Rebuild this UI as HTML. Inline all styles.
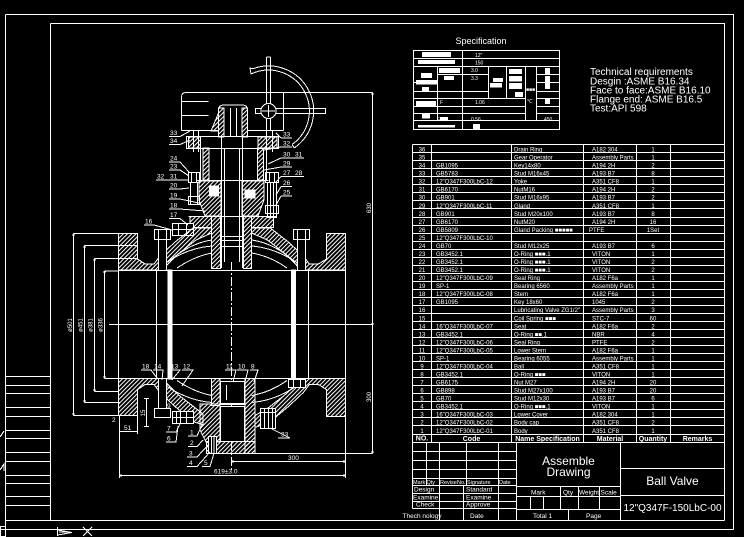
<!DOCTYPE html>
<html><head><meta charset="utf-8"><style>
html,body{margin:0;padding:0;background:#000;}
svg{display:block}
svg text{font-family:"Liberation Sans","DejaVu Sans",sans-serif;fill:#fff;stroke:none}
.m{text-anchor:middle}
</style></head><body>
<svg width="744" height="537" viewBox="0 0 744 537" xmlns="http://www.w3.org/2000/svg">
<defs>
<pattern id="h" patternUnits="userSpaceOnUse" width="3" height="3" patternTransform="rotate(45)"><rect width="1" height="3" fill="#fff"/></pattern>
</defs>
<rect width="744" height="537" fill="#000"/>
<g stroke="#fff" stroke-width="1" fill="none" shape-rendering="crispEdges">
<!-- frames -->
<path d="M5.5 14.5H733.5V529.5M5.5 14.5V529.5M0 529.5H733.5"/>
<path d="M50.5 23.5H724.5V520.5M50.5 23.5V520.5M5.5 520.5H724.5"/>
<path d="M5.5 376.5H50.5M5.5 385.5H50.5M5.5 393.5H50.5M5.5 407.5H50.5M5.5 416.5H50.5M5.5 430.5H50.5M5.5 438.5H50.5M5.5 452.5H50.5M5.5 461.5H50.5M5.5 475.5H50.5M5.5 483.5H50.5M5.5 496.5H50.5M5.5 505.5H50.5"/>
<path d="M0 437L4 431M0 470L4 464V471"/>
<rect x="0.5" y="526.5" width="5" height="10"/>
<path d="M57.5 527V536M57.5 530L72 532.5L57.5 535M59 532H70"/>
<path d="M83 527L92 536M92 527L83 536"/>

<!-- spec box -->
<rect x="413.5" y="50.5" width="146" height="79"/>
<path d="M413.5 58.5H559.5M413.5 66.5H559.5M462.5 50.5V129.5M437.5 66.5V120.5M488.5 66.5V98.5M506.5 66.5V98.5M525.5 66.5V120.5M536.5 66.5V120.5"/>
<path d="M437.5 74.5H488.5M536.5 74.5H559.5M536.5 82.5H559.5M413.5 82.5H437.5M413.5 91.5H488.5M536.5 91.5H559.5M413.5 98.5H525.5M536.5 98.5H559.5M413.5 106.5H525.5M536.5 106.5H559.5M413.5 113.5H525.5M536.5 113.5H559.5M413.5 120.5H559.5"/>

<!-- BOM table -->
<path d="M412.5 144.5H724.5M412.5 152.5H724.5M412.5 160.5H724.5M412.5 168.5H724.5M412.5 176.5H724.5M412.5 184.5H724.5M412.5 192.5H724.5M412.5 200.5H724.5M412.5 208.5H724.5M412.5 217.5H724.5M412.5 225.5H724.5M412.5 233.5H724.5M412.5 241.5H724.5M412.5 249.5H724.5M412.5 257.5H724.5M412.5 265.5H724.5M412.5 273.5H724.5M412.5 281.5H724.5M412.5 289.5H724.5M412.5 297.5H724.5M412.5 305.5H724.5M412.5 313.5H724.5M412.5 321.5H724.5M412.5 329.5H724.5M412.5 337.5H724.5M412.5 345.5H724.5M412.5 353.5H724.5M412.5 361.5H724.5M412.5 369.5H724.5M412.5 377.5H724.5M412.5 385.5H724.5M412.5 393.5H724.5M412.5 401.5H724.5M412.5 409.5H724.5M412.5 417.5H724.5M412.5 425.5H724.5M412.5 434.5H724.5M412.5 442.5H724.5"/>
<path d="M412.5 144.5V508.5M431.5 144.5V442.5M511.5 144.5V442.5M583.5 144.5V442.5M636.5 144.5V442.5M670.5 144.5V442.5"/>

<!-- title block -->
<path d="M412.5 451.5H516.5M412.5 460.5H516.5M412.5 469.5H516.5M412.5 478.5H516.5M412.5 485.5H516.5M412.5 493.5H516.5M412.5 501.5H516.5M412.5 508.5H516.5"/>
<path d="M426.5 442.5V485.5M439.5 442.5V520.5M466.5 442.5V485.5M498.5 442.5V520.5M463.5 485.5V520.5M516.5 442.5V520.5"/>
<path d="M516.5 486.5H620.5M516.5 496.5H620.5M516.5 509.5H620.5M560.5 486.5V509.5M578.5 486.5V509.5M599.5 486.5V509.5M530.5 496.5V509.5M543.5 496.5V509.5M568.5 509.5V520.5M620.5 442.5V520.5M620.5 468.5H724.5M620.5 495.5H724.5"/>

<!-- ============ VALVE DRAWING ============ -->
<path d="M181.5 130.5V97Q181.5 92.5 186 92.5H372.5M283.5 92.5V130.5M181.5 130.5H218M247 130.5H283.5M181.5 101.5H208.5M181.5 115.5H208.5"/>
<path d="M218.5 137V110Q218.5 105 224 105H242Q247.5 105 247.5 110V137M230.5 108V137M236.5 108V137"/>
<rect x="218.5" y="108" width="5.5" height="29" fill="url(#h)"/>
<rect x="242" y="108" width="5.5" height="29" fill="url(#h)"/>
<polygon points="211,131 218.5,113 218.5,131" fill="url(#h)"/>
<path d="M266.5 57V104M270.5 57V104M266.5 118V130M270.5 118V130M266.5 57H270.5"/>
<rect x="255.5" y="108.5" width="70" height="5"/>
<circle cx="268.5" cy="111" r="7.5" fill="#000"/>
<path d="M262 111H275M268.5 105V117"/>
<path d="M253.1 68.7A45 45 0 0 1 294.3 147.9M254.5 72.5A41 41 0 0 1 292 144.6M253.1 68.7L250 68L251 74L254.5 72.5M294.3 147.9L292 144.6"/>
<rect x="186.5" y="136.5" width="92" height="12"/>
<rect x="188.5" y="137" width="12" height="11" fill="url(#h)"/>
<rect x="258" y="137" width="19" height="11" fill="url(#h)"/>
<path d="M193.5 131V152M198.5 131V152M266.5 131V152M272.5 131V152"/>
<path d="M221.5 137V268M242.5 137V268M224.5 148V262M239.5 148V262M221.5 236.5H242.5M221.5 240.5H242.5M221.5 246.5H242.5"/>
<path d="M200.5 148V180M266.5 148V180"/>
<rect x="203" y="148" width="6" height="32" fill="url(#h)"/>
<rect x="257.5" y="148" width="6" height="32" fill="url(#h)"/>
<path d="M196.5 180.5H268.5"/>
<polygon points="199,181 221,181 221,216 205,216 199,200" fill="url(#h)"/>
<polygon points="242,181 264,181 264,200 258,216 242,216" fill="url(#h)"/>
<rect x="209.5" y="186" width="9" height="10" fill="#fff"/>
<rect x="245" y="190" width="10" height="8" fill="#fff"/>
<rect x="188.5" y="172.5" width="11" height="10"/>
<path d="M191.5 172V182M196.5 172V182"/>
<rect x="190.5" y="182.5" width="7" height="22"/>
<rect x="188.5" y="196.5" width="11" height="8"/>
<rect x="265.5" y="172.5" width="13" height="10"/>
<path d="M269.5 172V182M274.5 172V182"/>
<rect x="267.5" y="182.5" width="9" height="35"/>
<rect x="265.5" y="205.5" width="13" height="8"/>
<path d="M270.5 182V217M273.5 182V217"/>
<path d="M188.5 216.5H276.5"/>
<rect x="190" y="216.5" width="21.5" height="11" fill="url(#h)"/>
<rect x="251.5" y="216.5" width="22" height="11" fill="url(#h)"/>
<rect x="211.5" y="216.5" width="9" height="52" fill="url(#h)"/>
<rect x="243.5" y="216.5" width="8" height="52" fill="url(#h)"/>
<rect x="172.5" y="223.5" width="21" height="12" fill="#000"/>
<path d="M178.5 223V236M186.5 223V236M172 229.5H194"/>
<polygon points="118.5,233.5 137.5,233.5 137.5,259 145,264 154,264 160,256 175,242 193,228 211.5,228 211.5,233 196,240 178,254 168,264 163,270 118.5,270" fill="url(#h)"/>
<polygon points="345.5,233.5 326.5,233.5 326.5,259 318.4,264 309.4,264 303.4,256 288.4,242 270.4,228 251.5,228 251.5,233 267.4,240 285.4,254 295.4,264 300.4,270 345.5,270" fill="url(#h)"/>
<path d="M160 267Q185 248 212 246M177 268Q195 256 212 253M251.5 246Q278 248 303 267M251.5 253Q270 256 287 268"/>
<path d="M168 262Q190 243 212 240M295 262Q274 243 251.5 240"/>
<rect x="154.5" y="229.5" width="16" height="10" fill="#000"/>
<path d="M158.5 229V239M166.5 229V239"/>
<rect x="158.5" y="239.5" width="8" height="31" fill="#000"/>
<rect x="293.5" y="229.5" width="16" height="10" fill="#000"/>
<path d="M297.5 229V239M305.5 229V239"/>
<rect x="297.5" y="239.5" width="8" height="31" fill="#000"/>
<path d="M118.5 233V416M345.5 233V478M118 270.5H345.5M118 378.5H345.5M156.5 270V378M308.5 270V378"/>
<rect x="168" y="270" width="4" height="109" fill="#fff"/>
<rect x="291.5" y="270" width="4" height="109" fill="#fff"/>
<path d="M109 324.5H373" />
<path d="M231.5 262V470" stroke-dasharray="9 2 2 2"/>
<polygon points="118.5,415.5 137.5,415.5 137.5,389.5 145,384.5 154,384.5 160,392.5 175,406.5 193,421.5 203,425 203,414 196,408.5 178,394.5 168,384.5 163,378.5 118.5,378.5" fill="url(#h)"/>
<polygon points="345.5,416.5 326.5,416.5 326.5,389.5 318.4,384.5 309.4,384.5 303.4,392.5 288.4,406.5 270.4,421.5 255,427.5 255,415.5 267.4,408.5 285.4,394.5 295.4,384.5 300.4,378.5 345.5,378.5" fill="url(#h)"/>
<path d="M160 381.5Q185 400.5 212 402.5M177 380.5Q195 392.5 212 395.5M251.5 402.5Q278 400.5 303 381.5M251.5 395.5Q270 392.5 287 380.5"/>
<rect x="211.5" y="378.5" width="8.5" height="27" fill="url(#h)"/>
<polygon points="200,404 220,404 220,442 206,442 200,430" fill="url(#h)"/>
<rect x="245" y="378.5" width="10" height="75" fill="url(#h)"/>
<rect x="206.5" y="441.5" width="48.5" height="12" fill="url(#h)"/>
<rect x="220.5" y="381.5" width="24" height="22" fill="#000"/>
<path d="M226.5 385V400"/>
<rect x="220.5" y="406.5" width="24" height="35" fill="#000"/>
<path d="M220 404.5H245"/>
<rect x="208.5" y="436.5" width="8" height="17" fill="#000"/>
<path d="M211.5 436V453M214 436V453"/>
<rect x="172.5" y="411.5" width="21" height="12" fill="#000"/>
<path d="M176.5 411V423M180.5 411V423M186.5 411V423M172 417.5H194"/>
<rect x="260.5" y="408.5" width="15" height="20" fill="#000"/>
<path d="M264.5 408V428M268.5 408V428M272.5 408V428M260 412.5H276"/>
<rect x="288.5" y="379.5" width="17" height="8" fill="#000"/>
<path d="M293.5 379V387M300.5 379V387"/>
<rect x="154.5" y="408.5" width="16" height="9" fill="#000"/>
<rect x="158.5" y="378.5" width="8" height="30" fill="#000"/>
<path d="M73.5 233.5V415.5M73.5 233.5H118M73.5 415.5H118"/>
<path d="M84.5 245.5V402.5M84.5 245.5H137M84.5 402.5H120"/>
<path d="M94.5 258.5V391.5M94.5 258.5H137M94.5 391.5H118"/>
<path d="M104.5 271V378.5M104.5 271H118M104.5 378.5H118"/>
<path d="M72 235H75M72 414H75M83 247H86M83 401H86M93 260H96M93 390H96M103 272H106M103 377H106"/>
<path d="M372.5 92.5V453.5M255 453.5H372.5M371 94H374M371 324H374M371 452H374"/>
<path d="M231.5 461.5H345.5M233 460V463M344 460V463"/>
<path d="M119.5 416V478M119 475.5H345.5M121 474V477M344 474V477"/>
<path d="M119 431.5H137.5M137.5 416V434"/>
<path d="M146.5 398V427M144 398.5H149M144 426.5H149"/>
<path d="M169 136.5H180L190 131M169 144.5H180L190 140M169 162H180L189 172M169 170H180L189 176M156 180H180L188 180M169 189H180L189 188M169 199H180L199 203M169 209H180L205 211M169 218.5H180L188 225M144 225H154L172 230"/>
<path d="M281 138H292M281 138L276 133M281 147H292M281 147L264 150M281 158H304M281 158L268 164M281 167H292M281 167L264 170M281 176.5H304M281 176.5L276 182M281 186.5H292M281 186.5L276 195M281 196H292M281 196L276 205"/>
<path d="M141 370H151L157 378M153 370H163L162 380M170 370H180L172 380M182 370H193L182 386M225 370H236L233 382M237 370H248L245 382M250 370H258L254 382"/>
<path d="M166 432H176L180 424M166 442H176L178 426M188 436H197L202 425M188 446.5H197L203 440M187 457H197L209 444M187 466.5H197L210 452M202 466.5H210L214 453M278 438H290L270 428"/>
</g>

<g fill="#fff">
<rect x="422" y="52" width="29" height="5"/><rect x="418" y="60" width="37" height="4"/>
<rect x="421" y="73" width="11" height="5"/><rect x="416" y="80" width="22" height="4.5"/><rect x="422" y="87" width="7" height="4"/>
<rect x="439" y="68" width="21" height="5"/><rect x="444" y="76" width="10" height="4"/>
<rect x="493" y="78" width="10" height="4"/><rect x="490" y="83" width="12" height="4.5"/>
<rect x="509" y="69" width="13" height="5"/><rect x="509" y="76" width="13" height="5.5"/><rect x="509" y="83" width="13" height="6"/><rect x="515" y="92" width="8" height="5"/>
<rect x="545" y="68" width="5" height="6"/><rect x="545" y="76" width="5" height="13"/><rect x="545" y="99" width="5" height="5"/>
<rect x="416" y="101" width="20" height="5"/><rect x="422" y="114" width="8" height="4.5"/><rect x="440" y="117" width="8" height="4"/>
<rect x="473" y="124" width="7" height="5"/><rect x="418" y="125" width="37" height="2.5"/>
</g>
<g font-size="5">
<text x="475" y="57">12&quot;</text><text x="475" y="64.5">150</text>
<text x="471" y="72">3.0</text><text x="471" y="80">3.3</text>
<text x="440" y="104">F</text><text x="475" y="104">1.06</text>
<text x="437" y="121">F</text><text x="471" y="121">0.56</text><text x="544" y="121">450</text>
<text x="526" y="91">■■■</text><text x="527" y="103">℃</text>
</g>
<text x="481" y="44" font-size="9" class="m">Specification</text>
<g font-size="10">
<text x="590" y="75">Technical requirements</text>
<text x="590" y="84.5">Desgin :ASME B16.34</text>
<text x="590" y="93.5">Face to face:ASME B16.10</text>
<text x="590" y="102.5">Flange end: ASME B16.5</text>
<text x="590" y="111.5">Test:API 598</text>
</g>

<g font-size="6">
<g class="m">
<text x="422" y="151.5">36</text><text x="422" y="159.5">35</text><text x="422" y="167.6">34</text><text x="422" y="175.6">33</text><text x="422" y="183.6">32</text><text x="422" y="191.7">31</text><text x="422" y="199.7">30</text><text x="422" y="207.8">29</text><text x="422" y="215.8">28</text><text x="422" y="223.8">27</text><text x="422" y="231.9">26</text><text x="422" y="239.9">25</text><text x="422" y="247.9">24</text><text x="422" y="256">23</text><text x="422" y="264">22</text><text x="422" y="272">21</text><text x="422" y="280.1">20</text><text x="422" y="288.1">19</text><text x="422" y="296.2">18</text><text x="422" y="304.2">17</text><text x="422" y="312.2">16</text><text x="422" y="320.3">15</text><text x="422" y="328.3">14</text><text x="422" y="336.3">13</text><text x="422" y="344.4">12</text><text x="422" y="352.4">11</text><text x="422" y="360.4">10</text><text x="422" y="368.5">9</text><text x="422" y="376.5">8</text><text x="422" y="384.5">7</text><text x="422" y="392.6">6</text><text x="422" y="400.6">5</text><text x="422" y="408.7">4</text><text x="422" y="416.7">3</text><text x="422" y="424.7">2</text><text x="422" y="432.8">1</text>
</g>
<g>
<text x="436" y="167.6">GB1095</text><text x="436" y="175.6">GB5783</text><text x="436" y="183.6">12&quot;Q347F300LbC-12</text><text x="436" y="191.7">GB6170</text><text x="436" y="199.7">GB901</text><text x="436" y="207.8">12&quot;Q347F300LbC-11</text><text x="436" y="215.8">GB901</text><text x="436" y="223.8">GB6170</text><text x="436" y="231.9">GB5809</text><text x="436" y="239.9">12&quot;Q347F300LbC-10</text><text x="436" y="247.9">GB70</text><text x="436" y="256">GB3452.1</text><text x="436" y="264">GB3452.1</text><text x="436" y="272">GB3452.1</text><text x="436" y="280.1">12&quot;Q347F300LbC-09</text><text x="436" y="288.1">SP-1</text><text x="436" y="296.2">12&quot;Q347F300LbC-08</text><text x="436" y="304.2">GB1095</text><text x="436" y="328.3">16&quot;Q347F300LbC-07</text><text x="436" y="336.3">GB3452.1</text><text x="436" y="344.4">12&quot;Q347F300LbC-06</text><text x="436" y="352.4">12&quot;Q347F300LbC-05</text><text x="436" y="360.4">SP-1</text><text x="436" y="368.5">12&quot;Q347F300LbC-04</text><text x="436" y="376.5">GB3452.1</text><text x="436" y="384.5">GB6175</text><text x="436" y="392.6">GB898</text><text x="436" y="400.6">GB70</text><text x="436" y="408.7">GB3452.1</text><text x="436" y="416.7">16&quot;Q347F300LbC-03</text><text x="436" y="424.7">12&quot;Q347F300LbC-02</text><text x="436" y="432.8">12&quot;Q347F300LbC-01</text>
</g>
<g>
<text x="514" y="151.5">Drain Ring</text><text x="514" y="159.5">Gear Operator</text><text x="514" y="167.6">Key14x80</text><text x="514" y="175.6">Stud M16x45</text><text x="514" y="183.6">Yoke</text><text x="514" y="191.7">NutM16</text><text x="514" y="199.7">Stud M16x95</text><text x="514" y="207.8">Gland</text><text x="514" y="215.8">Stud M20x100</text><text x="514" y="223.8">NutM20</text><text x="514" y="231.9">Gland Packing ■■■■■</text><text x="514" y="247.9">Stud M12x25</text><text x="514" y="256">O-Ring ■■■.1</text><text x="514" y="264">O-Ring ■■■.1</text><text x="514" y="272">O-Ring ■■■.1</text><text x="514" y="280.1">Seal Ring</text><text x="514" y="288.1">Bearing 6560</text><text x="514" y="296.2">Stem</text><text x="514" y="304.2">Key 18x60</text><text x="514" y="312.2">Lubricating Valve ZG1/2&quot;</text><text x="514" y="320.3">Coil Spring ■■■</text><text x="514" y="328.3">Seat</text><text x="514" y="336.3">O-Ring ■■.1</text><text x="514" y="344.4">Seal Ring</text><text x="514" y="352.4">Lower Stem</text><text x="514" y="360.4">Bearing 6055</text><text x="514" y="368.5">Ball</text><text x="514" y="376.5">O-Ring ■■■</text><text x="514" y="384.5">Nut M27</text><text x="514" y="392.6">Stud M27x100</text><text x="514" y="400.6">Stud M12x30</text><text x="514" y="408.7">O-Ring ■■■.1</text><text x="514" y="416.7">Lower Cover</text><text x="514" y="424.7">Body cap</text><text x="514" y="432.8">Body</text>
</g>
<g>
<text x="592" y="151.5">A182 304</text><text x="592" y="159.5">Assembly Parts</text><text x="592" y="167.6">A194 2H</text><text x="592" y="175.6">A193 B7</text><text x="592" y="183.6">A351 CF8</text><text x="592" y="191.7">A194 2H</text><text x="592" y="199.7">A193 B7</text><text x="592" y="207.8">A351 CF8</text><text x="592" y="215.8">A193 B7</text><text x="592" y="223.8">A194 2H</text><text x="589" y="231.9">PTFE</text><text x="592" y="247.9">A193 B7</text><text x="592" y="256">VITON</text><text x="592" y="264">VITON</text><text x="592" y="272">VITON</text><text x="592" y="280.1">A182 F6a</text><text x="592" y="288.1">Assembly Parts</text><text x="592" y="296.2">A182 F6a</text><text x="592" y="304.2">1045</text><text x="592" y="312.2">Assembly Parts</text><text x="592" y="320.3">STC-7</text><text x="592" y="328.3">A182 F6a</text><text x="592" y="336.3">NBR</text><text x="592" y="344.4">PTFE</text><text x="592" y="352.4">A182 F6a</text><text x="592" y="360.4">Assembly Parts</text><text x="592" y="368.5">A351 CF8</text><text x="592" y="376.5">VITON</text><text x="592" y="384.5">A194 2H</text><text x="592" y="392.6">A193 B7</text><text x="592" y="400.6">A193 B7</text><text x="592" y="408.7">VITON</text><text x="592" y="416.7">A182 304</text><text x="592" y="424.7">A351 CF8</text><text x="592" y="432.8">A351 CF8</text>
</g>
<g class="m">
<text x="653" y="151.5">1</text><text x="653" y="159.5">1</text><text x="653" y="167.6">2</text><text x="653" y="175.6">8</text><text x="653" y="183.6">1</text><text x="653" y="191.7">2</text><text x="653" y="199.7">2</text><text x="653" y="207.8">1</text><text x="653" y="215.8">8</text><text x="653" y="223.8">16</text><text x="653" y="231.9">1Set</text><text x="653" y="247.9">6</text><text x="653" y="256">1</text><text x="653" y="264">2</text><text x="653" y="272">2</text><text x="653" y="280.1">1</text><text x="653" y="288.1">1</text><text x="653" y="296.2">1</text><text x="653" y="304.2">2</text><text x="653" y="312.2">3</text><text x="653" y="320.3">60</text><text x="653" y="328.3">2</text><text x="653" y="336.3">4</text><text x="653" y="344.4">2</text><text x="653" y="352.4">1</text><text x="653" y="360.4">1</text><text x="653" y="368.5">1</text><text x="653" y="376.5">1</text><text x="653" y="384.5">20</text><text x="653" y="392.6">20</text><text x="653" y="400.6">6</text><text x="653" y="408.7">1</text><text x="653" y="416.7">1</text><text x="653" y="424.7">2</text><text x="653" y="432.8">1</text>
</g>
</g>
<g font-size="7" font-weight="bold" class="m">
<text x="422" y="440.5">NO.</text><text x="471.5" y="441">Code</text><text x="547.5" y="441">Name Specification</text><text x="610" y="441">Material</text><text x="653" y="441">Quantity</text><text x="697.5" y="441">Remarks</text>
</g>

<g font-size="5.5">
<text x="413" y="484">Mark</text><text x="426.5" y="484">Qty</text><text x="440" y="484">Revise</text><text x="457" y="484">No.</text><text x="467" y="484">Signature</text><text x="499" y="484">Date</text>
</g>
<g font-size="6.5">
<text x="414" y="491.5">Design</text><text x="466" y="491.5">Standard</text>
<text x="413" y="499.5">Examine</text><text x="466" y="499.5">Examine</text>
<text x="416" y="506.5">Check</text><text x="466" y="506.5">Approve</text>
<text x="402.5" y="518">Thech nology</text><text x="470" y="518">Date</text>
<text x="531" y="494.5">Mark</text><text x="563" y="494.5">Qty</text><text x="579" y="494.5">Weight</text><text x="600.5" y="494.5">Scale</text>
<text x="533" y="518">Total 1</text><text x="586" y="518">Page</text>
</g>
<g font-size="12" class="m">
<text x="568.5" y="465">Assemble</text><text x="568.5" y="476">Drawing</text>
</g>
<text x="672.5" y="485" font-size="12" class="m">Ball  Valve</text>
<text x="672.5" y="511" font-size="10" class="m">12&quot;Q347F-150LbC-00</text>

<g font-size="6.5">
<text x="170" y="135">33</text><text x="170" y="143">34</text><text x="170" y="160.5">24</text><text x="170" y="168.5">23</text><text x="157" y="178.5">32</text><text x="170" y="178.5">31</text><text x="170" y="187.5">20</text><text x="170" y="197.5">19</text><text x="170" y="207.5">18</text><text x="170" y="217">17</text><text x="145" y="223.5">16</text>
<text x="283" y="136.5">33</text><text x="283" y="145.5">32</text><text x="283" y="156.5">30</text><text x="295" y="156.5">31</text><text x="283" y="165.5">29</text><text x="283" y="175">27</text><text x="295" y="175">28</text><text x="283" y="185">26</text><text x="283" y="194.5">25</text>
<text x="142" y="368.5">18</text><text x="154" y="368.5">14</text><text x="171" y="368.5">13</text><text x="183" y="368.5">12</text><text x="226" y="368.5">11</text><text x="238" y="368.5">10</text><text x="251" y="368.5">8</text>
<text x="167" y="408">9</text><text x="167" y="430.5">7</text><text x="167" y="440.5">6</text><text x="190" y="434.5">1</text><text x="190" y="445">2</text><text x="189" y="455.5">3</text><text x="189" y="465">4</text><text x="204" y="465">5</text><text x="281" y="436.5">33</text><text x="112" y="422">2</text><text x="124" y="430">51</text>
<text x="288" y="460">300</text><text x="214" y="473.5">619±3.0</text>
</g>
<g font-size="6" class="m">
<text transform="translate(72 325) rotate(-90)">ø501</text>
<text transform="translate(82.5 325) rotate(-90)">ø451</text>
<text transform="translate(92.5 325) rotate(-90)">ø381</text>
<text transform="translate(102.5 325) rotate(-90)">ø336</text>
<text transform="translate(371 208) rotate(-90)">630</text>
<text transform="translate(371 397) rotate(-90)">300</text>
<text transform="translate(145 413) rotate(-90)">15</text>
</g>
</svg>
</body></html>
